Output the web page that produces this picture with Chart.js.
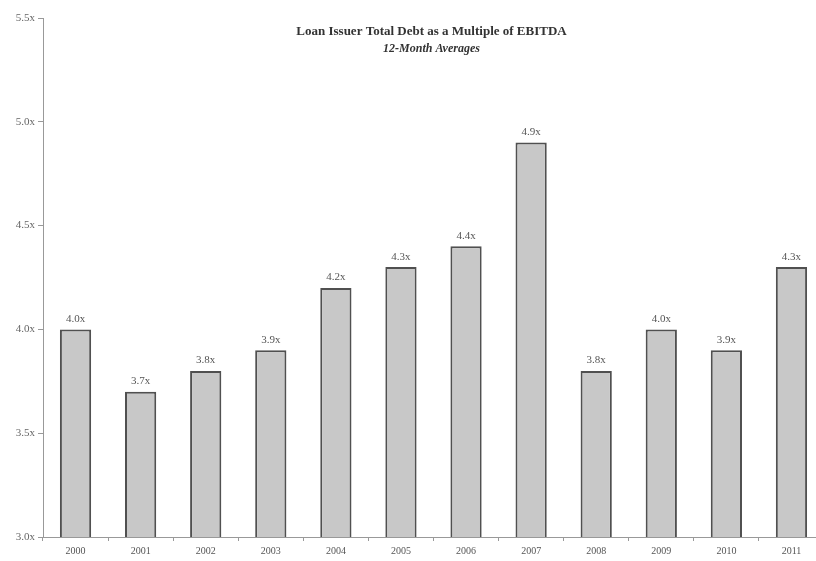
<!DOCTYPE html>
<html>
<head>
<meta charset="utf-8">
<script src="https://cdn.jsdelivr.net/npm/chart.js@4"></script>
<style>
  html, body { margin: 0; padding: 0; background: #fff; overflow: hidden; }
  #wrap { width: 824px; height: 561px; }
</style>
</head>
<body>
<div id="wrap"><canvas id="myChart" width="824" height="561"></canvas></div>
<script>
const years = ["2000", "2001", "2002", "2003", "2004", "2005", "2006", "2007", "2008", "2009", "2010", "2011"];
const multiples = [4.0, 3.7, 3.8, 3.9, 4.2, 4.3, 4.4, 4.9, 3.8, 4.0, 3.9, 4.3];
const yTicks = [3.0, 3.5, 4.0, 4.5, 5.0, 5.5];
const titleText = "Loan Issuer Total Debt as a Multiple of EBITDA";
const subtitleText = "12-Month Averages";

const serif = "'Liberation Serif', 'Times New Roman', serif";

// 막대 위 값 표시 + 제목
const labelPlugin = {
  id: "barLabels",
  afterDatasetsDraw(chart) {
    const ctx = chart.ctx;
    const meta = chart.getDatasetMeta(0);
    ctx.save();
    ctx.font = "11px " + serif;
    ctx.fillStyle = "#555";
    ctx.textAlign = "center";
    ctx.textBaseline = "bottom";
    meta.data.forEach((bar, i) => {
      ctx.fillText(multiples[i].toFixed(1) + "x", bar.x, bar.y - 5);
    });
    const cx = (chart.chartArea.left + 816) / 2 + 2;
    ctx.fillStyle = "#333";
    ctx.font = "bold 13px " + serif;
    ctx.fillText(titleText, cx, 38);
    ctx.font = "italic bold 12px " + serif;
    ctx.fillText(subtitleText, cx, 55);
    ctx.restore();
  }
};

new Chart(document.getElementById("myChart"), {
  type: "bar",
  data: {
    labels: years,
    datasets: [{
      data: multiples,
      backgroundColor: "#c8c8c8",
      borderColor: "#505050",
      borderWidth: 2,
      borderSkipped: "bottom",
      barPercentage: 0.48,
      categoryPercentage: 1.0
    }]
  },
  options: {
    responsive: false,
    animation: false,
    layout: { padding: { top: 18, right: 0, left: 0, bottom: 0 } },
    plugins: {
      legend: { display: false },
      tooltip: { enabled: false }
    },
    scales: {
      y: {
        min: 3.0,
        max: 5.5,
        afterBuildTicks: (axis) => { axis.ticks = yTicks.map(v => ({ value: v })); },
        ticks: {
          callback: (v) => Number(v).toFixed(1) + "x",
          font: { family: serif, size: 11 },
          color: "#666",
          padding: 3
        },
        grid: { display: true, drawOnChartArea: false, tickLength: 5, color: "#999" },
        border: { color: "#999", width: 1 },
        afterFit: (axis) => { axis.width = 43; }
      },
      x: {
        ticks: {
          font: { family: serif, size: 10 },
          color: "#555",
          padding: 4
        },
        grid: { display: true, drawOnChartArea: false, tickLength: 4, color: "#999", offset: true },
        border: { color: "#999", width: 1 },
        afterFit: (axis) => { axis.height = 24; }
      }
    }
  },
  plugins: [labelPlugin]
});
</script>
</body>
</html>
